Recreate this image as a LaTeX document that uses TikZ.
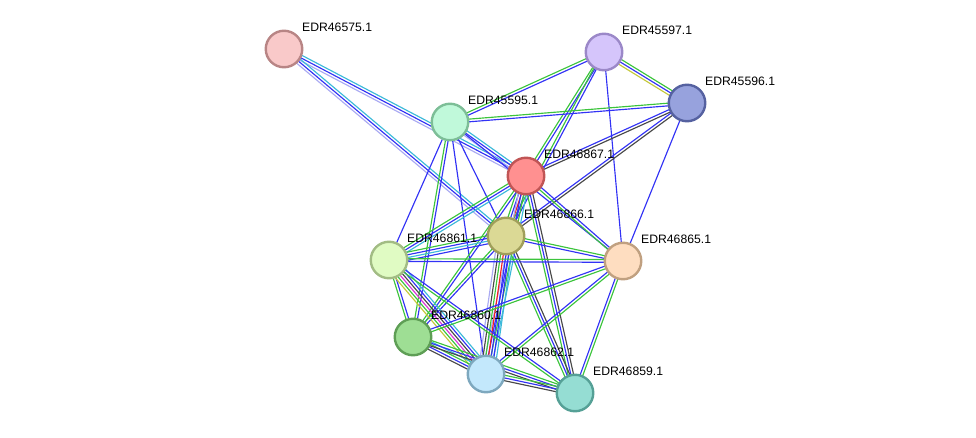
\documentclass[tikz,border=0pt]{standalone}
\usepackage{fontspec}
\setmainfont{Liberation Sans}
\usetikzlibrary{calc,backgrounds}
\definecolor{sgreen}{HTML}{3CC43C}
\definecolor{sblue}{HTML}{3232F5}
\definecolor{scyan}{HTML}{3CB9D9}
\definecolor{slav}{HTML}{AAAAF2}
\definecolor{sblack}{HTML}{484848}
\definecolor{sred}{HTML}{F52020}
\definecolor{smag}{HTML}{D835D8}
\definecolor{syel}{HTML}{C4C83A}
\newcommand\strlink[3]{%
\foreach \c [count=\k] in {#3} {\global\let\nlinks\k}%
\foreach \c [count=\k] in {#3} {%
\pgfmathsetmacro\off{(\k-(\nlinks+1)/2)*2.7}%
\draw[link,\c] ($(#1.center)!\off pt!90:(#2.center)$) -- ($(#2.center)!\off pt!-90:(#1.center)$);
}}
\begin{document}
\begin{tikzpicture}[
x=1pt,y=-1pt,
prot/.style={circle,draw,line width=2.4pt,minimum size=36.5pt,inner sep=0pt},
lbl/.style={anchor=west,inner sep=0pt,font=\fontsize{12.2}{14}\selectfont},
link/.style={line width=1.15pt}
]
\useasboundingbox (0,0) rectangle (976,438);
\node[prot,fill={rgb,255:red,249;green,201;blue,201},draw={rgb,255:red,184;green,133;blue,133}] (n46575) at (284,49) {};
\node[prot,fill={rgb,255:red,213;green,197;blue,251},draw={rgb,255:red,155;green,136;blue,200}] (n45597) at (604,52) {};
\node[prot,fill={rgb,255:red,151;green,162;blue,221},draw={rgb,255:red,85;green,97;blue,160}] (n45596) at (687,103) {};
\node[prot,fill={rgb,255:red,192;green,249;blue,218},draw={rgb,255:red,125;green,190;blue,151}] (n45595) at (450,122) {};
\node[prot,fill={rgb,255:red,255;green,144;blue,144},draw={rgb,255:red,192;green,85;blue,85}] (n46867) at (526,176) {};
\node[prot,fill={rgb,255:red,219;green,217;blue,149},draw={rgb,255:red,160;green,158;blue,90}] (n46866) at (506,236) {};
\node[prot,fill={rgb,255:red,224;green,251;blue,195},draw={rgb,255:red,162;green,188;blue,132}] (n46861) at (389,260) {};
\node[prot,fill={rgb,255:red,254;green,221;blue,192},draw={rgb,255:red,192;green,160;blue,128}] (n46865) at (623,261) {};
\node[prot,fill={rgb,255:red,158;green,222;blue,148},draw={rgb,255:red,94;green,158;blue,85}] (n46860) at (413,337) {};
\node[prot,fill={rgb,255:red,195;green,232;blue,252},draw={rgb,255:red,126;green,168;blue,190}] (n46862) at (486,374) {};
\node[prot,fill={rgb,255:red,149;green,221;blue,211},draw={rgb,255:red,85;green,160;blue,150}] (n46859) at (575,393) {};
\node[lbl] (l46575) at ([shift={(18,-22)}]n46575.center) {EDR46575.1};
\node[lbl] (l45597) at ([shift={(18,-22)}]n45597.center) {EDR45597.1};
\node[lbl] (l45596) at ([shift={(18,-22)}]n45596.center) {EDR45596.1};
\node[lbl] (l45595) at ([shift={(18,-22)}]n45595.center) {EDR45595.1};
\node[lbl] (l46867) at ([shift={(18,-22)}]n46867.center) {EDR46867.1};
\node[lbl] (l46866) at ([shift={(18,-22)}]n46866.center) {EDR46866.1};
\node[lbl] (l46861) at ([shift={(18,-22)}]n46861.center) {EDR46861.1};
\node[lbl] (l46865) at ([shift={(18,-22)}]n46865.center) {EDR46865.1};
\node[lbl] (l46860) at ([shift={(18,-22)}]n46860.center) {EDR46860.1};
\node[lbl] (l46862) at ([shift={(18,-22)}]n46862.center) {EDR46862.1};
\node[lbl] (l46859) at ([shift={(18,-22)}]n46859.center) {EDR46859.1};
\begin{scope}[on background layer]
\strlink{n46575}{n46867}{slav,sblue,scyan}
\strlink{n46575}{n46866}{slav,sblue,scyan}
\strlink{n45597}{n45595}{sgreen,sblue}
\strlink{n45597}{n45596}{syel,sblue,sgreen}
\strlink{n45597}{n46867}{sgreen,sblue}
\strlink{n45597}{n46866}{sgreen,sblue}
\strlink{n45597}{n46865}{sblue}
\strlink{n45596}{n45595}{sgreen,sblue}
\strlink{n45596}{n46867}{sblue,sblack}
\strlink{n45596}{n46866}{sblue,sblack}
\strlink{n45596}{n46865}{sblue}
\strlink{n45595}{n46867}{slav,sblue,scyan}
\strlink{n45595}{n46866}{sblue}
\strlink{n45595}{n46861}{sblue}
\strlink{n45595}{n46860}{sgreen,sblue}
\strlink{n45595}{n46862}{sblue}
\strlink{n45595}{n46865}{sblue}
\strlink{n46867}{n46866}{sgreen,sblue,sred,sblue}
\strlink{n46867}{n46861}{sgreen,sblue,scyan}
\strlink{n46867}{n46860}{sgreen,sblue}
\strlink{n46867}{n46862}{slav,sblue,sgreen,scyan}
\strlink{n46867}{n46859}{sgreen,sblue,sblack}
\strlink{n46867}{n46865}{sgreen,sblue}
\strlink{n46866}{n46861}{sgreen,sblue,scyan,sblue}
\strlink{n46866}{n46865}{sblue,sgreen}
\strlink{n46866}{n46860}{sgreen,sblue}
\strlink{n46866}{n46862}{slav,sblack,sgreen,sred,sblue,sblue,scyan}
\strlink{n46866}{n46859}{sgreen,sblue,sblack}
\strlink{n46861}{n46865}{sblue,sgreen}
\strlink{n46861}{n46860}{sgreen,sblue}
\strlink{n46861}{n46862}{syel,sgreen,smag,sblack,sblue,scyan}
\strlink{n46861}{n46859}{sgreen,sblue}
\strlink{n46860}{n46862}{sblack,sblue,sgreen,scyan}
\strlink{n46860}{n46859}{sblack,sblue,sgreen}
\strlink{n46860}{n46865}{sgreen,sblue}
\strlink{n46862}{n46859}{sblack,sblue,sgreen}
\strlink{n46862}{n46865}{sgreen,sblue}
\strlink{n46859}{n46865}{sgreen,sblue}
\end{scope}
\end{tikzpicture}
\end{document}
